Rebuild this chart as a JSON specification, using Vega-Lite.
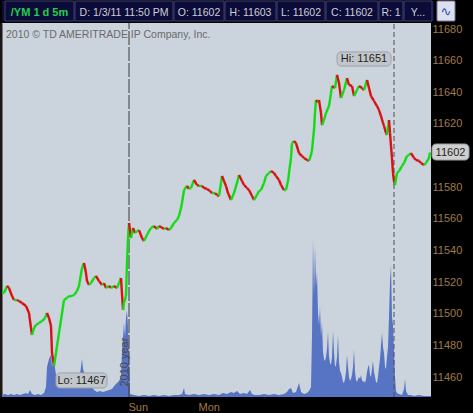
{
  "$schema": "https://vega.github.io/schema/vega-lite/v6.json",
  "background": "#000000",
  "padding": {"left": 0, "top": 0, "right": 0, "bottom": 3},
  "spacing": 0,
  "config": {
    "font": "Liberation Sans",
    "view": {"stroke": null},
    "axis": {"grid": false, "ticks": false, "domain": false, "labelFlush": false, "labelOverlap": false}
  },
  "datasets": {
    "header": [
      {"kind": "band", "t": "", "x0": 0, "x1": 432},
      {"kind": "sym", "t": "/YM 1 d 5m", "x0": 3, "x1": 72},
      {"kind": "info", "t": "D: 1/3/11 11:50 PM", "x0": 73, "x1": 171},
      {"kind": "info", "t": "O: 11602", "x0": 172, "x1": 222},
      {"kind": "info", "t": "H: 11603", "x0": 223, "x1": 274},
      {"kind": "info", "t": "L: 11602", "x0": 275, "x1": 323},
      {"kind": "info", "t": "C: 11602", "x0": 324, "x1": 376},
      {"kind": "info", "t": "R: 1", "x0": 377, "x1": 401},
      {"kind": "info", "t": "Y...", "x0": 402, "x1": 430},
      {"kind": "icon", "t": "∿", "x0": 435, "x1": 453}
    ],
    "marks": [
      {"kind": "year", "b": 130, "t": "2010 year", "p": 11454},
      {"kind": "session", "b": 395, "t": "", "p": 11454}
    ],
    "price": [
      {"b":3,"c":11513.1},{"b":5,"c":11513.1},{"b":8,"c":11517.6},{"b":10,"c":11516.3},{"b":13,"c":11511.2},
      {"b":15,"c":11508.7},{"b":18,"c":11508.7},{"b":20,"c":11508.1},{"b":23,"c":11506.8},{"b":27,"c":11504.9},
      {"b":30,"c":11500.5},{"b":32,"c":11491.0},{"b":33,"c":11486.6},{"b":35,"c":11491.0},{"b":37,"c":11492.9},
      {"b":40,"c":11494.2},{"b":43,"c":11495.4},{"b":46,"c":11497.3},{"b":48,"c":11500.5},{"b":50,"c":11497.3},
      {"b":52,"c":11492.3},{"b":53,"c":11475.2},{"b":55,"c":11467.0},{"b":57,"c":11475.2},{"b":58,"c":11479.6},
      {"b":60,"c":11487.8},{"b":62,"c":11496.1},{"b":65,"c":11508.7},{"b":68,"c":11510.0},{"b":70,"c":11511.2},
      {"b":73,"c":11511.2},{"b":75,"c":11511.9},{"b":78,"c":11514.4},{"b":80,"c":11517.6},{"b":83,"c":11528.9},
      {"b":85,"c":11532.1},{"b":87,"c":11525.8},{"b":88,"c":11520.7},{"b":90,"c":11518.2},{"b":92,"c":11519.4},
      {"b":95,"c":11522.6},{"b":97,"c":11523.9},{"b":100,"c":11520.7},{"b":103,"c":11518.2},{"b":105,"c":11519.4},
      {"b":107,"c":11516.3},{"b":110,"c":11517.6},{"b":112,"c":11516.3},{"b":115,"c":11517.6},{"b":118,"c":11516.3},
      {"b":120,"c":11519.4},{"b":122,"c":11522.6},{"b":124,"c":11502.4},{"b":125,"c":11506.8},{"b":127,"c":11511.2},
      {"b":128,"c":11532.1},{"b":129,"c":11547.9},{"b":130,"c":11557.4},{"b":132,"c":11547.9},{"b":134,"c":11554.2},
      {"b":136,"c":11551.1},{"b":138,"c":11552.3},{"b":140,"c":11552.9},{"b":143,"c":11547.9},{"b":145,"c":11546.0},
      {"b":148,"c":11549.8},{"b":150,"c":11552.3},{"b":152,"c":11554.2},{"b":155,"c":11555.5},{"b":158,"c":11553.6},
      {"b":160,"c":11555.5},{"b":162,"c":11554.8},{"b":165,"c":11553.6},{"b":167,"c":11554.2},{"b":170,"c":11552.9},
      {"b":172,"c":11554.2},{"b":175,"c":11557.4},{"b":178,"c":11559.3},{"b":180,"c":11561.8},{"b":182,"c":11566.9},
      {"b":183,"c":11570.0},{"b":185,"c":11578.2},{"b":188,"c":11580.8},{"b":190,"c":11578.9},{"b":192,"c":11579.5},
      {"b":195,"c":11584.6},{"b":198,"c":11581.4},{"b":200,"c":11580.8},{"b":203,"c":11580.8},{"b":205,"c":11579.5},
      {"b":208,"c":11578.9},{"b":211,"c":11577.6},{"b":213,"c":11576.3},{"b":216,"c":11576.3},{"b":218,"c":11575.1},
      {"b":220,"c":11574.4},{"b":222,"c":11582.7},{"b":223,"c":11587.1},{"b":225,"c":11583.9},{"b":227,"c":11580.8},
      {"b":229,"c":11576.3},{"b":232,"c":11571.9},{"b":235,"c":11576.3},{"b":238,"c":11582.7},{"b":240,"c":11587.7},
      {"b":243,"c":11583.9},{"b":245,"c":11581.4},{"b":248,"c":11579.5},{"b":250,"c":11578.2},{"b":253,"c":11574.4},
      {"b":255,"c":11571.9},{"b":258,"c":11575.1},{"b":260,"c":11577.6},{"b":262,"c":11578.2},{"b":265,"c":11582.7},
      {"b":267,"c":11587.1},{"b":270,"c":11589.0},{"b":272,"c":11590.2},{"b":275,"c":11589.0},{"b":277,"c":11587.1},
      {"b":280,"c":11584.6},{"b":282,"c":11581.4},{"b":285,"c":11578.2},{"b":287,"c":11578.2},{"b":289,"c":11583.9},
      {"b":290,"c":11589.0},{"b":292,"c":11598.5},{"b":293,"c":11607.9},{"b":295,"c":11609.2},{"b":297,"c":11607.9},
      {"b":300,"c":11601.6},{"b":303,"c":11599.7},{"b":305,"c":11598.5},{"b":308,"c":11597.2},{"b":310,"c":11596.6},
      {"b":312,"c":11600.4},{"b":313,"c":11603.5},{"b":315,"c":11616.2},{"b":316,"c":11626.9},{"b":317,"c":11635.1},
      {"b":319,"c":11633.8},{"b":320,"c":11635.1},{"b":322,"c":11626.9},{"b":323,"c":11619.3},{"b":325,"c":11622.5},
      {"b":327,"c":11626.9},{"b":330,"c":11631.3},{"b":332,"c":11639.5},{"b":333,"c":11644.0},{"b":336,"c":11642.7},
      {"b":338,"c":11651.0},{"b":340,"c":11645.9},{"b":342,"c":11636.4},{"b":345,"c":11641.4},{"b":348,"c":11649.0},
      {"b":350,"c":11644.6},{"b":353,"c":11644.0},{"b":355,"c":11637.6},{"b":358,"c":11641.4},{"b":360,"c":11644.0},
      {"b":363,"c":11642.7},{"b":365,"c":11641.4},{"b":368,"c":11647.8},{"b":370,"c":11642.7},{"b":372,"c":11637.6},
      {"b":375,"c":11634.5},{"b":378,"c":11631.3},{"b":380,"c":11628.8},{"b":382,"c":11625.0},{"b":384,"c":11620.6},
      {"b":385,"c":11618.7},{"b":387,"c":11614.3},{"b":388,"c":11613.0},{"b":390,"c":11622.5},{"b":391,"c":11614.3},
      {"b":392,"c":11606.0},{"b":393,"c":11598.5},{"b":394,"c":11589.0},{"b":395,"c":11583.9},{"b":396,"c":11581.4},
      {"b":398,"c":11589.0},{"b":400,"c":11590.2},{"b":403,"c":11593.4},{"b":405,"c":11595.3},{"b":408,"c":11599.7},
      {"b":410,"c":11600.4},{"b":412,"c":11601.6},{"b":415,"c":11598.5},{"b":417,"c":11597.2},{"b":420,"c":11596.6},
      {"b":422,"c":11595.3},{"b":425,"c":11594.0},{"b":427,"c":11595.3},{"b":430,"c":11598.5},{"b":431,"c":11602.0}
    ],
    "volume": [
      {"b":3,"vol":2},{"b":6,"vol":3},{"b":9,"vol":2},{"b":12,"vol":3},{"b":15,"vol":2},{"b":18,"vol":3},
      {"b":21,"vol":2},{"b":24,"vol":3},{"b":27,"vol":4},{"b":29,"vol":3},{"b":31,"vol":7},{"b":33,"vol":3},
      {"b":36,"vol":2},{"b":39,"vol":3},{"b":42,"vol":2},{"b":45,"vol":4},{"b":47,"vol":10},{"b":48,"vol":30},
      {"b":50,"vol":38},{"b":52,"vol":42},{"b":53,"vol":30},{"b":55,"vol":36},{"b":57,"vol":22},{"b":59,"vol":16},
      {"b":62,"vol":13},{"b":65,"vol":14},{"b":68,"vol":12},{"b":71,"vol":11},{"b":74,"vol":13},{"b":77,"vol":12},
      {"b":80,"vol":16},{"b":82,"vol":30},{"b":83,"vol":38},{"b":84,"vol":28},{"b":86,"vol":22},{"b":88,"vol":18},
      {"b":90,"vol":16},{"b":92,"vol":12},{"b":95,"vol":7},{"b":98,"vol":5},{"b":101,"vol":6},{"b":104,"vol":5},
      {"b":107,"vol":6},{"b":110,"vol":7},{"b":113,"vol":8},{"b":116,"vol":12},{"b":118,"vol":14},{"b":120,"vol":16},
      {"b":122,"vol":20},{"b":123,"vol":45},{"b":125,"vol":74},{"b":126,"vol":60},{"b":127,"vol":80},{"b":128,"vol":86},
      {"b":129,"vol":70},{"b":130,"vol":40},{"b":131,"vol":3},{"b":135,"vol":2},{"b":140,"vol":1},{"b":145,"vol":2},
      {"b":150,"vol":1},{"b":155,"vol":2},{"b":160,"vol":1},{"b":165,"vol":2},{"b":170,"vol":1},{"b":175,"vol":2},
      {"b":180,"vol":2},{"b":183,"vol":3},{"b":185,"vol":9},{"b":186,"vol":3},{"b":190,"vol":2},{"b":195,"vol":3},
      {"b":200,"vol":2},{"b":205,"vol":3},{"b":210,"vol":2},{"b":215,"vol":3},{"b":220,"vol":2},{"b":224,"vol":4},
      {"b":228,"vol":3},{"b":232,"vol":5},{"b":235,"vol":4},{"b":238,"vol":6},{"b":241,"vol":3},{"b":245,"vol":4},
      {"b":248,"vol":3},{"b":251,"vol":7},{"b":253,"vol":3},{"b":256,"vol":2},{"b":260,"vol":2},{"b":265,"vol":3},
      {"b":270,"vol":2},{"b":275,"vol":3},{"b":280,"vol":2},{"b":285,"vol":3},{"b":288,"vol":5},{"b":290,"vol":8},
      {"b":292,"vol":9},{"b":294,"vol":4},{"b":297,"vol":5},{"b":300,"vol":14},{"b":302,"vol":5},{"b":305,"vol":3},
      {"b":308,"vol":4},{"b":310,"vol":6},{"b":312,"vol":10},{"b":313,"vol":60},{"b":314,"vol":158},{"b":315,"vol":100},
      {"b":316,"vol":150},{"b":317,"vol":110},{"b":318,"vol":125},{"b":319,"vol":84},{"b":320,"vol":72},{"b":321,"vol":90},
      {"b":322,"vol":60},{"b":323,"vol":75},{"b":324,"vol":45},{"b":325,"vol":38},{"b":326,"vol":36},{"b":327,"vol":40},
      {"b":328,"vol":48},{"b":329,"vol":65},{"b":330,"vol":40},{"b":331,"vol":34},{"b":332,"vol":32},{"b":333,"vol":40},
      {"b":334,"vol":66},{"b":335,"vol":45},{"b":336,"vol":30},{"b":337,"vol":32},{"b":338,"vol":40},{"b":339,"vol":62},
      {"b":340,"vol":35},{"b":341,"vol":26},{"b":342,"vol":24},{"b":343,"vol":20},{"b":344,"vol":15},{"b":345,"vol":14},
      {"b":346,"vol":18},{"b":347,"vol":25},{"b":348,"vol":42},{"b":349,"vol":30},{"b":350,"vol":20},{"b":351,"vol":16},
      {"b":352,"vol":18},{"b":353,"vol":22},{"b":354,"vol":30},{"b":355,"vol":47},{"b":356,"vol":25},{"b":357,"vol":17},
      {"b":358,"vol":15},{"b":359,"vol":18},{"b":360,"vol":20},{"b":361,"vol":18},{"b":362,"vol":22},{"b":363,"vol":17},
      {"b":364,"vol":15},{"b":365,"vol":16},{"b":366,"vol":14},{"b":367,"vol":18},{"b":368,"vol":25},{"b":369,"vol":30},
      {"b":370,"vol":32},{"b":371,"vol":22},{"b":372,"vol":20},{"b":373,"vol":28},{"b":374,"vol":36},{"b":375,"vol":25},
      {"b":376,"vol":20},{"b":377,"vol":15},{"b":378,"vol":14},{"b":379,"vol":20},{"b":380,"vol":30},{"b":381,"vol":38},
      {"b":382,"vol":52},{"b":383,"vol":64},{"b":384,"vol":50},{"b":385,"vol":44},{"b":386,"vol":30},{"b":387,"vol":28},
      {"b":388,"vol":40},{"b":389,"vol":50},{"b":390,"vol":80},{"b":391,"vol":115},{"b":392,"vol":132},{"b":393,"vol":80},
      {"b":394,"vol":72},{"b":395,"vol":45},{"b":396,"vol":20},{"b":397,"vol":6},{"b":398,"vol":4},{"b":400,"vol":3},
      {"b":403,"vol":2},{"b":405,"vol":8},{"b":406,"vol":18},{"b":407,"vol":6},{"b":409,"vol":2},{"b":412,"vol":2},
      {"b":415,"vol":1},{"b":420,"vol":2},{"b":425,"vol":1},{"b":430,"vol":1},{"b":432,"vol":1}
    ],
    "annot": [
      {"kind": "hl", "t": "Hi: 11651", "b0": 338, "b1": 392, "p0": 11656.6, "p1": 11665.5},
      {"kind": "hl", "t": "Lo: 11467", "b0": 57, "b1": 108, "p0": 11453.1, "p1": 11462.6},
      {"kind": "last", "t": "11602", "b0": 433, "b1": 470, "p0": 11597.2, "p1": 11607.3}
    ]
  },
  "vconcat": [
    {
      "width": 473,
      "height": 20,
      "view": {"fill": "#000000", "stroke": null},
      "data": {"name": "header"},
      "layer": [
        {
          "transform": [{"filter": "datum.kind == 'band'"}],
          "mark": {"type": "rect", "fill": "#0c0c3a"},
          "encoding": {
            "x": {"field": "x0", "type": "quantitative", "scale": {"domain": [0, 473], "nice": false, "zero": false}, "axis": null},
            "x2": {"field": "x1"}
          }
        },
        {
          "transform": [{"filter": "datum.kind == 'sym' || datum.kind == 'info'"}],
          "mark": {"type": "rect", "fill": "#0c0c3a", "stroke": "#3e3e66", "strokeWidth": 1},
          "encoding": {
            "x": {"field": "x0", "type": "quantitative"},
            "x2": {"field": "x1"}
          }
        },
        {
          "transform": [{"filter": "datum.kind == 'icon'"}],
          "mark": {"type": "rect", "fill": "#dcdfee", "stroke": "#7a7a9a", "strokeWidth": 1, "cornerRadius": 1},
          "encoding": {
            "x": {"field": "x0", "type": "quantitative"},
            "x2": {"field": "x1"}
          }
        },
        {
          "transform": [{"filter": "datum.kind == 'sym'"}, {"calculate": "(datum.x0 + datum.x1) / 2", "as": "xm"}],
          "mark": {"type": "text", "fontSize": 11, "fontWeight": "bold", "color": "#22d04a", "dy": 1.5},
          "encoding": {"x": {"field": "xm", "type": "quantitative"}, "text": {"field": "t"}}
        },
        {
          "transform": [{"filter": "datum.kind == 'info'"}, {"calculate": "(datum.x0 + datum.x1) / 2", "as": "xm"}],
          "mark": {"type": "text", "fontSize": 10.5, "color": "#cfcfd4", "dy": 1.5},
          "encoding": {"x": {"field": "xm", "type": "quantitative"}, "text": {"field": "t"}}
        },
        {
          "transform": [{"filter": "datum.kind == 'icon'"}, {"calculate": "(datum.x0 + datum.x1) / 2", "as": "xm"}],
          "mark": {"type": "text", "fontSize": 13, "font": "DejaVu Sans", "color": "#2a4aa8", "dy": 0.5},
          "encoding": {"x": {"field": "xm", "type": "quantitative"}, "text": {"field": "t"}}
        }
      ]
    },
    {
      "width": 429,
      "height": 374,
      "view": {"fill": "#cbd3dc", "stroke": null},
      "title": {
        "text": "2010 © TD AMERITRADE IP Company, Inc.",
        "anchor": "start",
        "frame": "group",
        "orient": "top",
        "offset": -26,
        "baseline": "alphabetic",
        "dx": 4,
        "fontSize": 10.5,
        "fontWeight": "normal",
        "color": "#6a6a6a"
      },
      "resolve": {"scale": {"y": "independent"}},
      "layer": [
        {
          "data": {"name": "volume"},
          "mark": {"type": "area", "color": "#5673c4", "interpolate": "linear"},
          "encoding": {
            "x": {
              "field": "b", "type": "quantitative",
              "scale": {"domain": [3, 432], "nice": false, "zero": false},
              "axis": {
                "title": null, "values": [129, 199],
                "labelExpr": "datum.value < 150 ? 'Sun' : 'Mon'",
                "labelAlign": "left", "labelPadding": 4, "labelColor": "#a07a48",
                "labelFontSize": 11, "labelFlush": false, "labelOverlap": false
              }
            },
            "y": {
              "field": "vol", "type": "quantitative",
              "scale": {"domain": [0, 374], "nice": false},
              "axis": {"orient": "left", "labels": false, "title": null, "domain": true, "domainColor": "#1c1712", "domainWidth": 3, "offset": 1.5}
            }
          }
        },
        {
          "layer": [
            {
              "data": {"name": "marks"},
              "transform": [{"filter": "datum.kind == 'year'"}],
              "mark": {"type": "rule", "color": "#3a3a3a", "strokeWidth": 1, "strokeDash": [14, 2]},
              "encoding": {
                "x": {"field": "b", "type": "quantitative"},
                "y": {"datum": 11447.4},
                "y2": {"datum": 11683.8}
              }
            },
            {
              "data": {"name": "marks"},
              "transform": [{"filter": "datum.kind == 'session'"}],
              "mark": {"type": "rule", "color": "#505050", "strokeWidth": 1, "strokeDash": [5, 3]},
              "encoding": {
                "x": {"field": "b", "type": "quantitative"},
                "y": {"datum": 11447.4},
                "y2": {"datum": 11683.8}
              }
            },
            {
              "data": {"name": "price"},
              "transform": [
                {"window": [{"op": "lag", "field": "c", "as": "o"}, {"op": "lag", "field": "b", "as": "pb"}], "sort": [{"field": "b"}]},
                {"filter": "datum.o != null"}
              ],
              "mark": {"type": "rule", "strokeWidth": 2.4, "strokeCap": "butt"},
              "encoding": {
                "x": {"field": "pb", "type": "quantitative", "scale": {"domain": [3, 432], "nice": false, "zero": false}},
                "x2": {"field": "b"},
                "y": {
                  "field": "o", "type": "quantitative",
                  "scale": {"domain": [11447.4, 11683.8], "nice": false, "zero": false},
                  "axis": {
                    "orient": "right", "title": null, "format": "d", "tickCount": 30,
                    "values": [11460, 11480, 11500, 11520, 11540, 11560, 11580, 11620, 11640, 11660, 11680],
                    "labelColor": "#a07a48", "labelFontSize": 11, "labelPadding": 1, "labelFlush": false, "labelOverlap": false
                  }
                },
                "y2": {"field": "c"},
                "color": {"condition": {"test": "datum.c >= datum.o", "value": "#14dc14"}, "value": "#d81212"}
              }
            },
            {
              "data": {"name": "annot"},
              "mark": {"type": "rect", "cornerRadius": 4, "stroke": "#9ca2a8", "strokeWidth": 1},
              "encoding": {
                "x": {"field": "b0", "type": "quantitative"},
                "x2": {"field": "b1"},
                "y": {"field": "p0", "type": "quantitative"},
                "y2": {"field": "p1"},
                "fill": {"field": "kind", "type": "nominal", "scale": {"domain": ["hl", "last"], "range": ["#c2c6cb", "#cfcfcf"]}, "legend": null}
              }
            },
            {
              "data": {"name": "annot"},
              "transform": [
                {"calculate": "(datum.b0 + datum.b1) / 2", "as": "bm"},
                {"calculate": "(datum.p0 + datum.p1) / 2", "as": "pm"}
              ],
              "mark": {"type": "text", "fontSize": 11, "color": "#1e1e1e", "align": "center", "baseline": "middle", "dy": 0.5},
              "encoding": {
                "x": {"field": "bm", "type": "quantitative"},
                "y": {"field": "pm", "type": "quantitative"},
                "text": {"field": "t"}
              }
            },
            {
              "data": {"name": "marks"},
              "transform": [{"filter": "datum.kind == 'year'"}],
              "mark": {"type": "text", "angle": 270, "align": "left", "baseline": "bottom", "fontSize": 11, "color": "#4a4a4a", "dx": 0, "dy": 1},
              "encoding": {
                "x": {"field": "b", "type": "quantitative"},
                "y": {"field": "p", "type": "quantitative"},
                "text": {"field": "t"}
              }
            }
          ]
        }
      ]
    }
  ]
}
